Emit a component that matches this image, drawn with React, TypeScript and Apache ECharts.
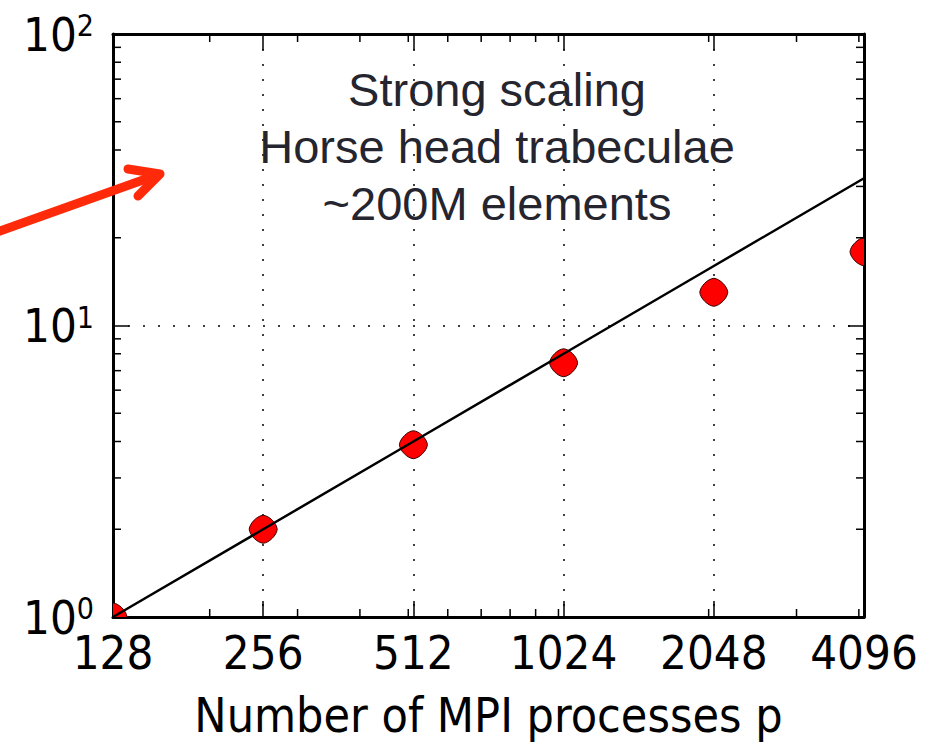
import React, { useEffect, useRef } from "react";
import * as echarts from "echarts";

const processes = [128, 256, 512, 1024, 2048, 4096];
const speedup = [1.0, 2.0, 3.9, 7.45, 13.0, 17.9];
const ideal = [1, 2, 4, 8, 16, 32];
const yMin = 1;
const yMax = 100;
const xMinorTicks = [200, 300, 400, 500, 600, 700, 800, 900, 1000, 2000, 3000, 4000];
const yMinorTicks = [2, 3, 4, 5, 6, 7, 8, 9, 20, 30, 40, 50, 60, 70, 80, 90];
const annotation = ["Strong scaling", "Horse head trabeculae", "~200M elements"];
const xAxisTitle = "Number of MPI processes p";

const FONT = "'DejaVu Sans Condensed', 'DejaVu Sans', sans-serif";
const MARKER =
  "M0,-14 C6,-13.5 13.5,-6 14,0 C13.5,6 6,13.5 0,14 C-6,13.5 -13.5,6 -14,0 C-13.5,-6 -6,-13.5 0,-14 Z";

export default function App() {
  const ref = useRef<HTMLDivElement>(null);
  useEffect(() => {
    if (!ref.current) return;
    const chart = echarts.init(ref.current, undefined, { renderer: "svg" });
    const xMin = processes[0];
    const xMax = processes[processes.length - 1];
    const axisLine = { show: true, onZero: false, lineStyle: { color: "#000", width: 3 } };
    const axisTick = { show: true, inside: true, length: 16, lineStyle: { color: "#000", width: 1.5 } };
    const grid = { color: "#000", width: 1.5, type: [2, 13] };
    const tickStyle = { stroke: "#000", lineWidth: 1.5 };
    const option: any = {
      animation: false,
      backgroundColor: "#fff",
      grid: { left: 113, right: 66, top: 34, bottom: 126, containLabel: false },
      xAxis: [
        {
          type: "log", logBase: 2, min: xMin, max: xMax, position: "bottom",
          axisLine, axisTick,
          splitLine: { show: true, lineStyle: grid },
          axisLabel: {
            show: true, margin: 12, color: "#000", fontSize: 47, fontFamily: FONT,
            showMinLabel: true, showMaxLabel: true,
            formatter: (v: number) => String(Math.round(v)),
          },
          name: xAxisTitle, nameLocation: "middle", nameGap: 74,
          nameTextStyle: { color: "#000", fontSize: 48, fontFamily: FONT },
        },
        {
          type: "log", logBase: 2, min: xMin, max: xMax, position: "top",
          axisLine, axisTick, splitLine: { show: false }, axisLabel: { show: false },
        },
      ],
      yAxis: [
        {
          type: "log", logBase: 10, min: yMin, max: yMax, position: "left",
          axisLine, axisTick,
          splitLine: { show: true, lineStyle: grid },
          axisLabel: {
            show: true, margin: 19, color: "#000", fontFamily: FONT,
            showMinLabel: true, showMaxLabel: true,
            formatter: (v: number) => "{b|10}{s|" + Math.round(Math.log10(v)) + "}",
            rich: {
              b: { fontSize: 47, lineHeight: 47, fontFamily: FONT, color: "#000" },
              s: { fontSize: 30, lineHeight: 15, verticalAlign: "top", fontFamily: FONT, color: "#000" },
            },
          },
        },
        {
          type: "log", logBase: 10, min: yMin, max: yMax, position: "right",
          axisLine, axisTick, splitLine: { show: false }, axisLabel: { show: false },
        },
      ],
      series: [
        {
          type: "custom", xAxisIndex: 0, yAxisIndex: 0, clip: false, silent: true, z: 6,
          data: xMinorTicks.map((v) => [v, yMin]),
          renderItem: (params: any, api: any) => {
            const x = api.value(0);
            const b = api.coord([x, yMin]);
            const t = api.coord([x, yMax]);
            return {
              type: "group",
              children: [
                { type: "line", shape: { x1: b[0], y1: b[1], x2: b[0], y2: b[1] - 8 }, style: tickStyle },
                { type: "line", shape: { x1: t[0], y1: t[1], x2: t[0], y2: t[1] + 8 }, style: tickStyle },
              ],
            };
          },
        },
        {
          type: "custom", xAxisIndex: 0, yAxisIndex: 0, clip: false, silent: true, z: 6,
          data: yMinorTicks.map((v) => [xMin, v]),
          renderItem: (params: any, api: any) => {
            const y = api.value(1);
            const l = api.coord([xMin, y]);
            const r = api.coord([xMax, y]);
            return {
              type: "group",
              children: [
                { type: "line", shape: { x1: l[0], y1: l[1], x2: l[0] + 8, y2: l[1] }, style: tickStyle },
                { type: "line", shape: { x1: r[0], y1: r[1], x2: r[0] - 8, y2: r[1] }, style: tickStyle },
              ],
            };
          },
        },
        {
          type: "custom", xAxisIndex: 0, yAxisIndex: 0, clip: true, z: 3,
          data: processes.map((p, i) => [p, speedup[i]]),
          renderItem: (params: any, api: any) => {
            const c = api.coord([api.value(0), api.value(1)]);
            return {
              type: "path",
              shape: { pathData: MARKER, x: c[0] - 14, y: c[1] - 14, width: 28, height: 28, layout: "cover" },
              style: { fill: "#ff0000", stroke: "#3a0000", lineWidth: 1 },
            };
          },
        },
        {
          type: "line", xAxisIndex: 0, yAxisIndex: 0, z: 4,
          data: processes.map((p, i) => [p, ideal[i]]),
          symbol: "none",
          lineStyle: { color: "#000", width: 2.5 },
        },
      ],
      graphic: [
        {
          type: "text", x: 497, y: 146, z: 10,
          style: {
            text: annotation.join("\n"), fontSize: 47,
            fontFamily: "'Liberation Sans', Arial, sans-serif",
            lineHeight: 57, fill: "#25252f", align: "center", verticalAlign: "middle",
          },
        },
        {
          type: "polyline", z: 10,
          shape: { points: [[-10, 234.5], [157, 175]] },
          style: { stroke: "#ff2a0a", lineWidth: 9, lineCap: "round", fill: null },
        },
        {
          type: "polyline", z: 10,
          shape: { points: [[128, 169], [160, 174], [138, 196]] },
          style: { stroke: "#ff2a0a", lineWidth: 9, lineCap: "round", lineJoin: "round", fill: null },
        },
      ],
    };
    chart.setOption(option);
    return () => chart.dispose();
  }, []);
  return (
    <div
      ref={ref}
      style={{ position: "fixed", left: 0, top: 0, width: 930, height: 744, background: "#fff" }}
    />
  );
}
